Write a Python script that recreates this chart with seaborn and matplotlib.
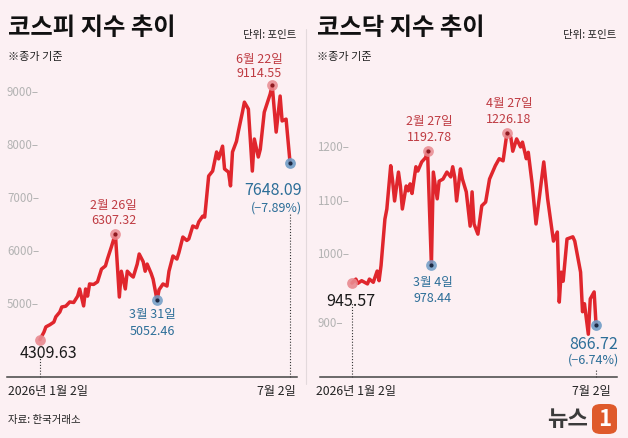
import matplotlib
matplotlib.use("Agg")
import matplotlib.pyplot as plt
import matplotlib.transforms as mtransforms
from matplotlib.patches import FancyBboxPatch
import seaborn as sns

# KOSPI closing index, trading-day index from 2026-01-02 (0) to 2026-07-02 (126)
kospi_day = [0, 2, 3, 5, 7, 8, 10, 11, 13, 15, 17, 19, 20, 22, 23, 24, 25, 27, 29, 30,
             31, 33, 34, 36, 38, 40, 41, 43, 44, 46, 47, 49, 50, 52, 53, 54, 56, 57, 59, 60,
             62, 64, 65, 67, 69, 70, 72, 74, 75, 77, 79, 80, 82, 83, 85, 87, 89, 90, 92, 93,
             95, 96, 97, 99, 100, 102, 103, 105, 107, 108, 110, 111, 113, 116, 117, 119, 121, 122, 124, 126]
kospi_val = [4309.63, 4450, 4550, 4590, 4640, 4740, 4830, 4925, 4940, 5020, 5010, 5130, 5265, 4945, 5265, 5130, 5360, 5350, 5400, 5520,
             5640, 5700, 5830, 6060, 6307.32, 5113, 5600, 5265, 5600, 5520, 5490, 5735, 5925, 5780, 5600, 5735, 5560, 5450, 5052.46, 5250,
             5360, 5320, 5600, 5887, 5830, 5950, 6245, 6180, 6210, 6453, 6420, 6530, 6640, 6620, 7396, 7490, 7850, 7720, 7960, 7530,
             7470, 7210, 7850, 8050, 8245, 8600, 8790, 8660, 7490, 8095, 7755, 7900, 8600, 8945, 9114.55, 8225, 8905, 8435, 8470, 7648.09]

# KOSDAQ closing index
kosdaq_day = [0, 2, 3, 5, 6, 8, 9, 11, 13, 14, 15, 17, 18, 20, 21, 22, 24, 25, 26, 28,
              29, 30, 31, 33, 34, 36, 38, 39, 41, 42, 44, 45, 47, 49, 51, 52, 53, 54, 56, 57,
              59, 61, 62, 63, 65, 67, 69, 71, 74, 76, 78, 80, 82, 83, 85, 87, 88, 90, 91, 93,
              95, 99, 101, 104, 106, 107, 108, 109, 111, 114, 115, 118, 119, 120, 122, 123, 125, 126]
kosdaq_val = [945.57, 953, 945, 950, 948, 944, 953, 947, 968, 950, 978, 1065, 1084, 1165, 1136, 1099, 1153, 1127, 1084, 1127,
              1118, 1131, 1113, 1163, 1155, 1172, 1180, 1192.78, 978.44, 1153, 1103, 1136, 1140, 1153, 1144, 1163, 1144, 1099, 1159, 1140,
              1116, 1052, 1116, 1056, 1037, 1090, 1097, 1140, 1165, 1178, 1174, 1226.18, 1218, 1192, 1215, 1200, 1209, 1178, 1190, 1131,
              1056, 1172, 1103, 1024, 1041, 910, 966, 949, 1028, 1032, 1024, 966, 892, 907, 850, 916, 929, 866.72]

kospi_ticks = [5000, 6000, 7000, 8000, 9000]
kosdaq_ticks = [900, 1000, 1100, 1200]

# highlighted points: (day, value, date label, kind)
kospi_marks = [(38, 6307.32, "2월 26일", "high"), (59, 5052.46, "3월 31일", "low"),
               (117, 9114.55, "6월 22일", "high")]
kosdaq_marks = [(39, 1192.78, "2월 27일", "high"), (41, 978.44, "3월 4일", "low"),
                (80, 1226.18, "4월 27일", "high")]
kospi_change = "(−7.89%)"
kosdaq_change = "(−6.74%)"

BG = "#fcf0f3"
LINE = "#e0262d"
RED_TXT = "#bf3b42"
BLUE_TXT = "#2c6e98"
W, H = 628, 439

sns.set_theme(style="white")
plt.rcParams["font.family"] = ["Noto Sans CJK KR", "DejaVu Sans"]
plt.rcParams["axes.unicode_minus"] = False

fig = plt.figure(figsize=(W / 100, H / 100), dpi=100, facecolor=BG)


def px_axes(left, top, right, bottom):
    return fig.add_axes([left / W, 1 - bottom / H, (right - left) / W, (bottom - top) / H])


def pt(px):
    return px * 0.72


def draw_panel(ax, days, vals, ticks, marks, change, xlim, ylim, tick_x,
               offs, start_off, end_off, dot_tops, tick_nudge=None):
    tick_nudge = tick_nudge or {}
    ax.set_facecolor("none")
    sns.lineplot(x=days, y=vals, ax=ax, color=LINE, linewidth=2.5, estimator=None,
                 solid_joinstyle="round", zorder=3)
    ax.set_xlim(*xlim)
    ax.set_ylim(*ylim)
    ax.set_xticks([])
    ax.set_yticks([])
    ax.set_xlabel("")
    ax.set_ylabel("")
    for side in ["left", "right", "top"]:
        ax.spines[side].set_visible(False)
    ax.spines["bottom"].set_color("#444444")
    ax.spines["bottom"].set_linewidth(1.1)

    trans = mtransforms.blended_transform_factory(ax.transAxes, ax.transData)
    for t in ticks:
        ax.annotate(f"{t}–", (tick_x, t), xycoords=trans,
                    xytext=(0, pt(tick_nudge.get(t, 0))), textcoords="offset points",
                    ha="left", va="center", fontsize=8.3, color="#b3b3b3")

    # highlighted extremes
    for (d, v, lab, kind), (dx, dy1, dy2) in zip(marks, offs):
        halo = "#e98a90" if kind == "high" else "#6f9cc6"
        core = "#8e1b22" if kind == "high" else "#1d2a44"
        col = RED_TXT if kind == "high" else BLUE_TXT
        ax.scatter([d], [v], s=60, color=halo, alpha=0.85, zorder=4, linewidths=0)
        ax.scatter([d], [v], s=9, color=core, zorder=5, linewidths=0)
        ax.annotate(lab, (d, v), xytext=(pt(dx), pt(dy1)), textcoords="offset points",
                    ha="center", va="center", fontsize=9, color=col, annotation_clip=False)
        ax.annotate(f"{v:.2f}", (d, v), xytext=(pt(dx), pt(dy2)), textcoords="offset points",
                    ha="center", va="center", fontsize=9, color=col, annotation_clip=False)

    # first and last close
    d0, v0 = days[0], vals[0]
    d1, v1 = days[-1], vals[-1]
    ax.scatter([d0], [v0], s=60, color="#e98a90", alpha=0.9, zorder=4, linewidths=0)
    ax.scatter([d1], [v1], s=60, color="#6f9cc6", alpha=0.9, zorder=4, linewidths=0)
    ax.scatter([d1], [v1], s=9, color="#1d2a44", zorder=5, linewidths=0)
    ax.annotate(f"{v0:.2f}", (d0, v0), xytext=(pt(start_off[0]), pt(start_off[1])),
                textcoords="offset points", ha="center", va="center", fontsize=11.5,
                color="#1a1a1a", annotation_clip=False)
    ax.annotate(f"{v1:.2f}", (d1, v1), xytext=(pt(end_off[0]), pt(end_off[1])),
                textcoords="offset points", ha="center", va="center", fontsize=11.5,
                color=BLUE_TXT, annotation_clip=False)
    ax.annotate(change, (d1, v1), xytext=(pt(end_off[2]), pt(end_off[3])),
                textcoords="offset points", ha="center", va="center", fontsize=9,
                color=BLUE_TXT, annotation_clip=False)

    vtrans = mtransforms.blended_transform_factory(ax.transData, ax.transAxes)
    for d, top in zip([d0, d1], dot_tops):
        ax.plot([d, d], [0, top], transform=vtrans, color="#333333", linewidth=0.8,
                linestyle=(0, (1, 1.6)), zorder=2, clip_on=False)


ax_l = px_axes(7, 80, 297, 378)
draw_panel(ax_l, kospi_day, kospi_val, kospi_ticks, kospi_marks, kospi_change,
           xlim=(-16.6, 129.5), ylim=(3604, 9227), tick_x=0.0,
           offs=[(-2, 29, 14), (-5, -13, -30), (-13, 26, 12)],
           start_off=(8, -13), end_off=(-17, -27, -14, -44), dot_tops=(0.07, 0.547))

ax_r = px_axes(320, 80, 617, 378)
draw_panel(ax_r, kosdaq_day, kosdaq_val, kosdaq_ticks, kosdaq_marks, kosdaq_change,
           xlim=(-16.5, 136.8), ylim=(770, 1327), tick_x=-0.01,
           offs=[(2, 30, 14), (1, -16, -32), (2, 30, 14)],
           start_off=(-1, -17), end_off=(-2, -18, -3, -34), dot_tops=(0.252, 0.027),
           tick_nudge={900: -15})

# titles and notes
for x0, title, unit_x in [(8, "코스피 지수 추이", 296), (317, "코스닥 지수 추이", 616)]:
    fig.text(x0 / W, 1 - 28 / H, title, fontsize=17.5, fontweight="bold",
             color="#111111", ha="left", va="center")
    fig.text(unit_x / W, 1 - 35 / H, "단위: 포인트", fontsize=7.5, color="#222222",
             ha="right", va="center")
    fig.text(x0 / W, 1 - 57 / H, "※종가 기준", fontsize=8, color="#222222",
             ha="left", va="center")

for x0, x1 in [(8, 296), (316, 611)]:
    fig.text(x0 / W, 1 - 392 / H, "2026년 1월 2일", fontsize=8.8, color="#222222",
             ha="left", va="center")
    fig.text(x1 / W, 1 - 392 / H, "7월 2일", fontsize=8.8, color="#222222",
             ha="right", va="center")

fig.text(8 / W, 1 - 420 / H, "자료: 한국거래소", fontsize=7.5, color="#222222",
         ha="left", va="center")

# panel separator
fig.add_artist(plt.Line2D([306 / W, 306 / W], [1 - 30 / H, 1 - 385 / H],
                          color="#e3d9dc", linewidth=0.8))

# logo
fig.text(588 / W, 1 - 420 / H, "뉴스", fontsize=16, fontweight="bold", style="italic",
         color="#3b3b3b", ha="right", va="center")
fig.add_artist(FancyBboxPatch((592 / W, 1 - 435 / H), 25 / W, 30 / H,
                              boxstyle="round,pad=0,rounding_size=0.014",
                              transform=fig.transFigure, facecolor="#df5a2b",
                              edgecolor="none"))
fig.text(604.5 / W, 1 - 420 / H, "1", fontsize=16, fontweight="bold", style="italic",
         color="white", ha="center", va="center")

fig.savefig("out.png", dpi=100, facecolor=BG)
